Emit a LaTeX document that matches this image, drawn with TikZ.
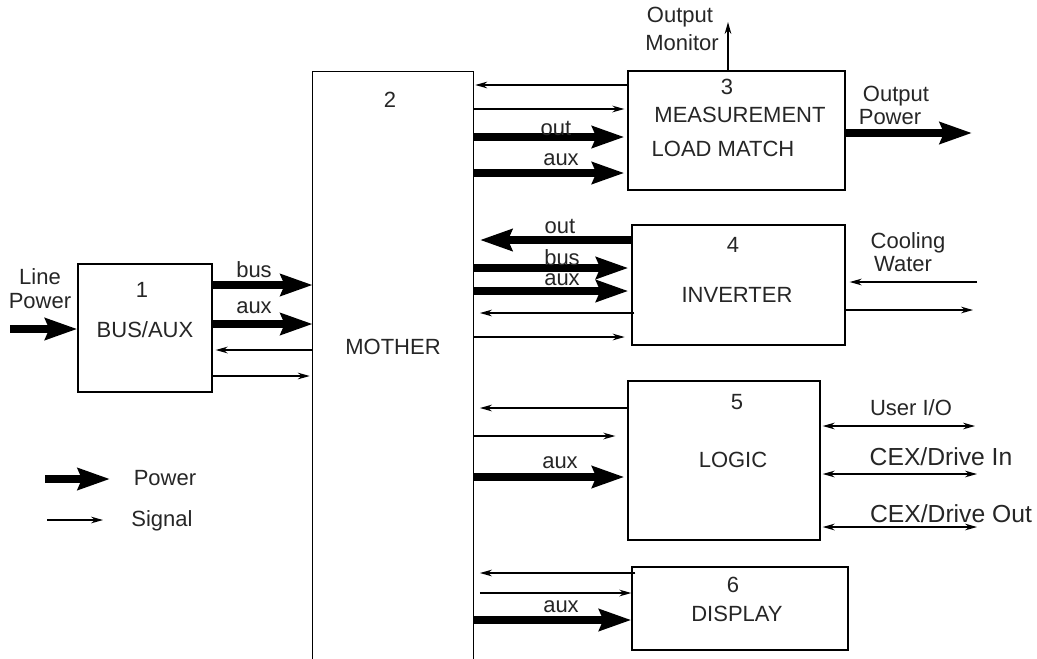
\documentclass[tikz,border=0pt]{standalone}
\usepackage{fontspec}
\setmainfont{Liberation Sans}
\usetikzlibrary{arrows.meta}
\begin{document}
\begin{tikzpicture}[x=0.75pt,y=-0.75pt,
  box/.style={draw, line width=1pt, inner sep=0pt},
  txt/.style={font=\fontsize{16.5}{18}\selectfont, inner sep=0pt, text=black!85},
  bigtxt/.style={font=\fontsize{18.5}{20}\selectfont, inner sep=0pt, text=black!85},
  pow/.style={line width=6.5pt, -{Stealth[length=24pt,width=16pt,inset=3pt]}},
  sig/.style={line width=1pt, -{Stealth[length=9pt,width=5pt]}},
  sigboth/.style={line width=1pt, {Stealth[length=9pt,width=5pt]}-{Stealth[length=9pt,width=5pt]}},
]
\useasboundingbox (0,0) rectangle (1037,658);
\fill[white] (0,0) rectangle (1037,658);

% boxes
\node[box, minimum width=100.5pt, minimum height=96pt] (b1) at (145,328) {};
\node[box, minimum width=162.75pt, minimum height=89.25pt] (b3) at (736.5,130.5) {};
\node[box, minimum width=159.75pt, minimum height=90pt] (b4) at (738.5,285) {};
\node[box, minimum width=144pt, minimum height=119.25pt] (b5) at (724,460.5) {};
\node[box, minimum width=162pt, minimum height=62.25pt] (b6) at (740,608.5) {};
\node[inner sep=0pt, minimum width=120pt, minimum height=456pt] (mother) at (393,376) {};
\draw[line width=1pt] (mother.south west) -- (mother.north west) -- (mother.north east) -- (mother.south east);

% box texts
\node[txt] (t1n) at (142,290) {1};
\node[txt] (t1) at (145,330) {BUS/AUX};
\node[txt] (t2n) at (390,100) {2};
\node[txt] (t2) at (393,347) {MOTHER};
\node[txt] (t3n) at (727,87) {3};
\node[txt] (t3a) at (740,115) {MEASUREMENT};
\node[txt] (t3b) at (723,149) {LOAD MATCH};
\node[txt] (t4n) at (733,245) {4};
\node[txt] (t4) at (737,295) {INVERTER};
\node[txt] (t5n) at (737,402) {5};
\node[txt] (t5) at (733,460) {LOGIC};
\node[txt] (t6n) at (733,585) {6};
\node[txt] (t6) at (737,614) {DISPLAY};

% box 1
\coordinate (lp) at (10,329);
\draw[pow] (lp) -- (b1.west |- lp);
\node[txt] (lpa) at (40,277) {Line};
\node[txt] (lpb) at (40,301) {Power};
\draw[pow] (b1.east |- 0,285) -- (mother.west |- 0,285);
\node[txt] (l1) at (254,270) {bus};
\draw[pow] (b1.east |- 0,324) -- (mother.west |- 0,324);
\node[txt] (l2) at (254,308) {aux};
\draw[sig] (mother.west |- 0,350) -- ([xshift=2.25pt]b1.east |- 0,350);
\draw[sig] (b1.east |- 0,376) -- ([xshift=-2.25pt]mother.west |- 0,376);

% box 3
\draw[sig] (b3.west |- 0,85) -- ([xshift=1.5pt]mother.east |- 0,85);
\draw[sig] (mother.east |- 0,109) -- ([xshift=-2.25pt]b3.west |- 0,109);
\draw[pow] (mother.east |- 0,137) -- ([xshift=-2.25pt]b3.west |- 0,137);
\node[txt] (l3) at (556,128) {out};
\draw[pow] (mother.east |- 0,173) -- ([xshift=-2.25pt]b3.west |- 0,173);
\node[txt] (l4) at (561,160) {aux};
\coordinate (om) at (728,22);
\draw[sig] (om |- b3.north) -- (om);
\node[txt] (oma) at (680,17) {Output};
\node[txt] (omb) at (682,43) {Monitor};
\coordinate (opw) at (972,133);
\draw[pow] (b3.east |- opw) -- (opw);
\node[txt] (opa) at (896,96) {Output};
\node[txt] (opb) at (890,117) {Power};

% box 4
\draw[pow] (b4.west |- 0,240) -- ([xshift=5pt]mother.east |- 0,240);
\node[txt] (l5) at (560,226) {out};
\draw[pow] (mother.east |- 0,268) -- ([xshift=-2.25pt]b4.west |- 0,268);
\node[txt] (l6) at (562,258) {bus};
\draw[pow] (mother.east |- 0,291) -- ([xshift=-2.25pt]b4.west |- 0,291);
\node[txt] (l7) at (562,280) {aux};
\draw[sig] ([xshift=2.25pt]b4.west |- 0,313) -- ([xshift=5pt]mother.east |- 0,313);
\draw[sig] (mother.east |- 0,337) -- ([xshift=-5pt]b4.west |- 0,337);
\coordinate (cw1) at (977,282);
\coordinate (cw2) at (973,310);
\draw[sig] (cw1) -- ([xshift=3pt]b4.east |- cw1);
\draw[sig] (b4.east |- cw2) -- (cw2);
\node[txt] (cwa) at (908,243) {Cooling};
\node[txt] (cwb) at (903,264) {Water};

% box 5
\draw[sig] (b5.west |- 0,408) -- ([xshift=5pt]mother.east |- 0,408);
\draw[sig] (mother.east |- 0,436) -- ([xshift=-9pt]b5.west |- 0,436);
\draw[pow] (mother.east |- 0,477) -- ([xshift=-2.25pt]b5.west |- 0,477);
\node[txt] (l8) at (560,463) {aux};
\coordinate (u1) at (975,426);
\coordinate (u2) at (977,474);
\coordinate (u3) at (977,527);
\draw[sigboth] ([xshift=1.5pt]b5.east |- u1) -- (u1);
\draw[sigboth] ([xshift=1.5pt]b5.east |- u2) -- (u2);
\draw[sigboth] ([xshift=1.5pt]b5.east |- u3) -- (u3);
\node[txt] (ua) at (911,408) {User I/O};
\node[bigtxt] (ub) at (941,457) {CEX/Drive In};
\node[bigtxt] (uc) at (951,514) {CEX/Drive Out};

% box 6
\draw[sig] ([xshift=3pt]b6.west |- 0,573) -- ([xshift=5pt]mother.east |- 0,573);
\draw[sig] ([xshift=5pt]mother.east |- 0,593) -- (b6.west |- 0,593);
\draw[pow] (mother.east |- 0,620) -- (b6.west |- 0,620);
\node[txt] (l9) at (561,607) {aux};

% legend
\coordinate (g1a) at (45,479);
\coordinate (g1b) at (110,479);
\coordinate (g2a) at (47,520);
\coordinate (g2b) at (103,520);
\draw[pow] (g1a) -- (g1b);
\draw[sig] (g2a) -- (g2b);
\node[txt] (gp) at (165,478) {Power};
\node[txt] (gs) at (162,521) {Signal};
\end{tikzpicture}
\end{document}
